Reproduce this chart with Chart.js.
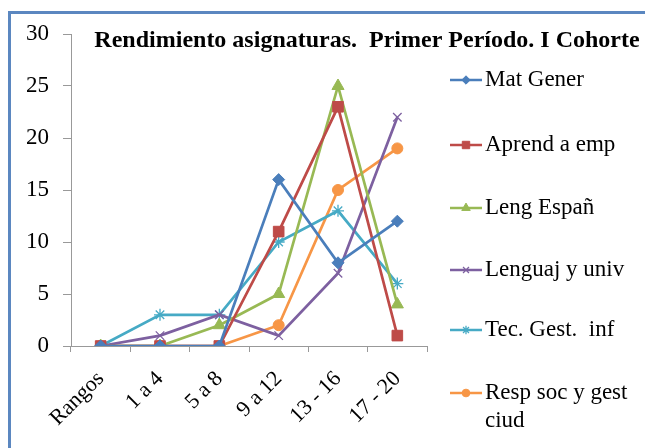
<!DOCTYPE html>
<html><head><meta charset="utf-8">
<script src="https://cdn.jsdelivr.net/npm/chart.js@4/dist/chart.umd.min.js"></script>
<style>html,body{margin:0;padding:0;background:#fff;}#wrap{width:645px;height:448px;position:relative;}</style>
</head><body><div id="wrap"><canvas id="c" width="645" height="448"></canvas></div>
<script>
const categories = ["Rangos", "1 a 4", "5 a 8", "9 a 12", "13 - 16", "17 - 20"];
const seriesNames = ["Mat Gener", "Aprend a emp", "Leng Españ", "Lenguaj y univ", "Tec. Gest.  inf", ["Resp soc y gest", "ciud"]];
const matGener   = [0, 0, 0, 16, 8, 12];
const aprendEmp  = [0, 0, 0, 11, 23, 1];
const lengEspan  = [0, 0, 2, 5, 25, 4];
const lenguajUniv= [0, 1, 3, 1, 7, 22];
const tecGestInf = [0, 3, 3, 10, 13, 6];
const respSoc    = [0, 0, 0, 2, 15, 19];
const yTicks = [0, 5, 10, 15, 20, 25, 30];
const titleText = "Rendimiento asignaturas.  Primer Período. I Cohorte";

const colors = ["#4A7EBB", "#BE4B48", "#98B954", "#7D60A0", "#46AAC5", "#F79646"];
const styles = ["rectRot", "rect", "triangle", "crossRot", "star", "circle"];
const radii = [6, 7.5, 7, 6, 6, 5.5];
const values = [matGener, aprendEmp, lengEspan, lenguajUniv, tecGestInf, respSoc];

const datasets = values.map((v, i) => ({
  label: seriesNames[i],
  data: v,
  borderColor: colors[i],
  backgroundColor: colors[i],
  borderWidth: 2.7,
  pointStyle: styles[i],
  pointRadius: radii[i],
  pointBorderWidth: (styles[i] === 'crossRot' || styles[i] === 'star') ? 1.3 : 1,
  pointBorderColor: colors[i],
  pointBackgroundColor: colors[i],
  tension: 0,
  fill: false
}));

const SERIF = "'Liberation Serif', 'Times New Roman', serif";

const decor = {
  id: 'decor',
  beforeDraw(chart) {
    const ctx = chart.ctx;
    ctx.save();
    ctx.fillStyle = '#fff';
    ctx.fillRect(0, 0, chart.width, chart.height);
    ctx.strokeStyle = '#5B87C0';
    ctx.lineWidth = 3;
    ctx.beginPath();
    ctx.moveTo(9.5, 448);
    ctx.lineTo(9.5, 12.5);
    ctx.lineTo(645, 12.5);
    ctx.stroke();
    ctx.restore();
  },
  afterDraw(chart) {
    const ctx = chart.ctx;
    ctx.save();
    // title
    ctx.fillStyle = '#000';
    ctx.font = "bold 24px " + SERIF;
    ctx.textAlign = 'center';
    ctx.textBaseline = 'middle';
    ctx.fillText(titleText, 367, 41);
    // legend
    const ys = [80, 145, 208, 270, 330, 393];
    ctx.font = "23px " + SERIF;
    ctx.textAlign = 'left';
    chart.data.datasets.forEach((ds, i) => {
      const y = ys[i];
      ctx.strokeStyle = ds.borderColor;
      ctx.lineWidth = 2.5;
      ctx.beginPath();
      ctx.moveTo(450, y);
      ctx.lineTo(482, y);
      ctx.stroke();
      ctx.fillStyle = ds.borderColor;
      ctx.strokeStyle = ds.borderColor;
      ctx.lineWidth = ds.pointBorderWidth;
      Chart.helpers.drawPoint(ctx, {pointStyle: ds.pointStyle, radius: ds.pointRadius * 0.7, borderWidth: ds.pointBorderWidth, rotation: 0}, 466, y);
      ctx.fillStyle = '#000';
      const lines = Array.isArray(ds.label) ? ds.label : [ds.label];
      lines.forEach((t, k) => ctx.fillText(t, 485, y + k * 28));
    });
    ctx.restore();
  }
};

new Chart(document.getElementById('c'), {
  type: 'line',
  data: { labels: categories, datasets },
  options: {
    responsive: false,
    animation: false,
    devicePixelRatio: 1,
    layout: { padding: { left: 0, right: 218, top: 34, bottom: 0 } },
    plugins: { legend: { display: false }, title: { display: false }, tooltip: { enabled: false } },
    scales: {
      x: {
        offset: true,
        grid: { display: true, offset: true, drawOnChartArea: false, drawTicks: true, tickLength: 6, color: '#999' },
        border: { display: true, color: '#999', width: 1 },
        ticks: { color: '#000', font: { family: SERIF, size: 22 }, minRotation: 45, maxRotation: 45, padding: 14, autoSkip: false },
        afterFit(s) { s.height = 102; }
      },
      y: {
        min: 0, max: 30,
        afterBuildTicks(s) { s.ticks = yTicks.map(v => ({ value: v })); },
        grid: { display: true, drawOnChartArea: false, drawTicks: true, tickLength: 8, color: '#999' },
        border: { display: true, color: '#999', width: 1 },
        ticks: { color: '#000', font: { family: SERIF, size: 23 }, padding: 14 },
        afterFit(s) { s.width = 71; }
      }
    }
  },
  plugins: [decor]
});
</script>
</body></html>
